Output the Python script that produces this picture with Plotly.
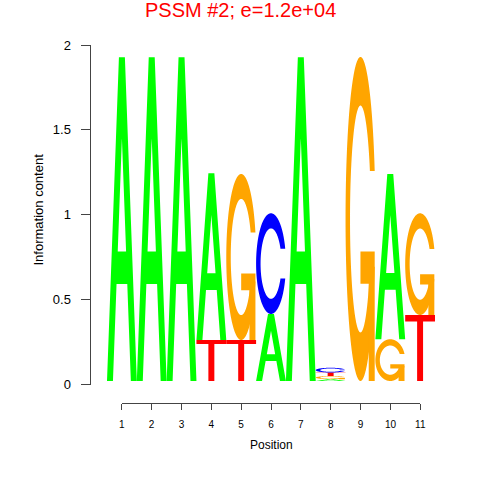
import numpy as np
import plotly.graph_objects as go

# ---------------- data ----------------
positions = list(range(1, 12))
tick_labels = [str(p) for p in positions]
ic_A = [1.907, 1.907, 1.907, 0.982, 0.0, 0.395, 1.907, 0.011, 0.0, 0.974, 0.0]
ic_C = [0.0, 0.0, 0.0, 0.0, 0.0, 0.593, 0.0, 0.028, 0.0, 0.0, 0.0]
ic_G = [0.0, 0.0, 0.0, 0.0, 0.978, 0.0, 0.0, 0.018, 1.909, 0.246, 0.599]
ic_T = [0.0, 0.0, 0.0, 0.2415, 0.2415, 0.0, 0.0, 0.021, 0.0, 0.0, 0.389]
y_ticks = [0, 0.5, 1, 1.5, 2]
y_tick_text = ["0", "0.5", "1", "1.5", "2"]
title_text = "PSSM #2; e=1.2e+04"

# ---------------- styles ----------------
COLORS = {"A": "#00FF00", "C": "#0000FF", "G": "#FFA500", "T": "#FF0000"}
FONT = "Liberation Sans, Arial, sans-serif"
BASE = 0.0206  # letter baseline offset

# ---------------- glyphs (unit box) ----------------
def glyph_A():
    outer = [(0, 0), (0.4, 1), (0.6, 1), (1, 0), (0.8, 0), (0.68, 0.3), (0.32, 0.3), (0.2, 0)]
    hole = [(0.36, 0.4), (0.5, 0.75), (0.64, 0.4)]
    return [[outer, hole]]

def glyph_T():
    return [[[(0, 1), (1, 1), (1, 0.9), (0.6, 0.9), (0.6, 0), (0.4, 0), (0.4, 0.9), (0, 0.9)]]]

def c_ring():
    a1 = np.linspace(0.3 + np.pi / 2, np.pi, 100)
    a2 = np.linspace(np.pi, 1.5 * np.pi, 100)
    xl1 = 0.5 + 0.5 * np.sin(a1); yl1 = 0.5 + 0.5 * np.cos(a1)
    xl2 = 0.5 + 0.5 * np.sin(a2); yl2 = 0.5 + 0.5 * np.cos(a2)
    xl = np.concatenate([xl1, xl2]); yl = np.concatenate([yl1, yl2])
    x = np.concatenate([xl, xl[::-1]]); y = np.concatenate([yl, 1 - yl[::-1]])
    xi1 = 0.5 + 0.35 * np.sin(a1); yi1 = 0.5 + 0.35 * np.cos(a1)
    m = yi1 <= yl1.max()
    xi1 = xi1[m]; yi1 = yi1[m]; yi1[0] = yl1.max()
    xi2 = 0.5 + 0.35 * np.sin(a2); yi2 = 0.5 + 0.35 * np.cos(a2)
    xi = np.concatenate([xi1, xi2]); yi = np.concatenate([yi1, yi2])
    x1 = np.concatenate([xi, xi[::-1]]); y1 = np.concatenate([yi, 1 - yi[::-1]])
    x = np.concatenate([x, x1[::-1]]); y = np.concatenate([y, y1[::-1]])
    return list(zip(x, y)), xl1.max()

def glyph_C():
    ring, _ = c_ring()
    return [[ring]]

def glyph_G():
    ring, r1 = c_ring()
    h1 = 0.4
    bar = [(r1, h1), (0.5, h1), (0.5, h1 - 0.1), (r1 - 0.2, h1 - 0.1), (r1 - 0.2, 0), (r1, 0)]
    return [[ring], [bar]]

GLYPHS = {"A": glyph_A(), "C": glyph_C(), "G": glyph_G(), "T": glyph_T()}

def make_path(subpolys, x0, y0, w, h):
    parts = []
    for poly in subpolys:
        pts = ["%.5f,%.5f" % (x0 + px * w, y0 + py * h) for px, py in poly]
        parts.append("M" + "L".join(pts) + "Z")
    return "".join(parts)

shapes = []
for i, p in enumerate(positions):
    hs = [("A", ic_A[i]), ("C", ic_C[i]), ("G", ic_G[i]), ("T", ic_T[i])]
    hs = sorted([t for t in hs if t[1] > 0], key=lambda t: t[1])
    y = BASE
    for letter, h in hs:
        for sub in GLYPHS[letter]:
            shapes.append(dict(type="path", xref="x", yref="y",
                               path=make_path(sub, p - 0.5, y, 1.0, h),
                               fillcolor=COLORS[letter], line=dict(width=0),
                               layer="above"))
        y += h

# ---------------- pixel layout helpers ----------------
S = 480.0
def fx(px): return px / S
def fy(py): return 1 - py / S
Y0, Y2 = 384.5, 45.0
ppu = (Y0 - Y2) / 2.0
LB, LT = 396.0, 40.0

fig = go.Figure()
for xa, ya in [("x", "y"), ("x2", "y2"), ("x3", "y3")]:
    fig.add_trace(go.Scatter(x=[None], y=[None], xaxis=xa, yaxis=ya,
                             showlegend=False, hoverinfo="skip"))

fig.update_layout(
    template="none",
    width=480, height=480,
    margin=dict(l=0, r=0, t=0, b=0, autoexpand=False),
    paper_bgcolor="white", plot_bgcolor="rgba(0,0,0,0)",
    showlegend=False,
    font=dict(family=FONT, color="black"),
    xaxis=dict(domain=[fx(107), fx(435)], range=[0.5, 11.5], visible=False,
               anchor="y", fixedrange=True, automargin=False),
    yaxis=dict(domain=[fy(LB), fy(LT)], range=[-(LB - Y0) / ppu, (Y0 - LT) / ppu],
               visible=False, anchor="x", fixedrange=True, automargin=False),
    xaxis2=dict(domain=[fx(90.5), fx(435)], range=[0, 1], visible=False, anchor="y2",
                automargin=False),
    yaxis2=dict(domain=[fy(Y0), fy(Y2)], range=[0, 2], anchor="x2", automargin=False,
                showline=True, linecolor="#444", linewidth=1,
                ticks="outside", ticklen=9, tickcolor="#444", tickwidth=1,
                tickvals=y_ticks, ticktext=y_tick_text, showgrid=False, zeroline=False,
                tickfont=dict(size=13, family=FONT, color="black"),
                ticklabelstandoff=7),
    xaxis3=dict(domain=[fx(121.7), fx(420.3)], range=[1, 11], anchor="y3", automargin=False,
                showline=True, linecolor="#444", linewidth=1,
                ticks="outside", ticklen=6, tickcolor="#444", tickwidth=1,
                tickvals=positions, ticktext=tick_labels, showgrid=False, zeroline=False,
                tickfont=dict(size=10, family=FONT, color="black"),
                ticklabelstandoff=6),
    yaxis3=dict(domain=[fy(402.5), fy(398)], range=[0, 1], visible=False, anchor="x3",
                automargin=False),
    shapes=shapes,
    annotations=[
        dict(text=title_text, x=fx(240), y=fy(10), xref="paper", yref="paper",
             xanchor="center", yanchor="middle", showarrow=False,
             font=dict(size=20, color="#FF0000", family=FONT)),
        dict(text="Information content", x=fx(37.5), y=fy(210), xref="paper", yref="paper",
             xanchor="center", yanchor="middle", showarrow=False, textangle=-90,
             font=dict(size=13, color="black", family=FONT)),
        dict(text="Position", x=fx(271), y=fy(445), xref="paper", yref="paper",
             xanchor="center", yanchor="middle", showarrow=False,
             font=dict(size=12, color="black", family=FONT)),
    ],
)

fig.write_html("out.html", config={"displayModeBar": False, "staticPlot": True},
               post_script="document.body.style.margin='0';")
